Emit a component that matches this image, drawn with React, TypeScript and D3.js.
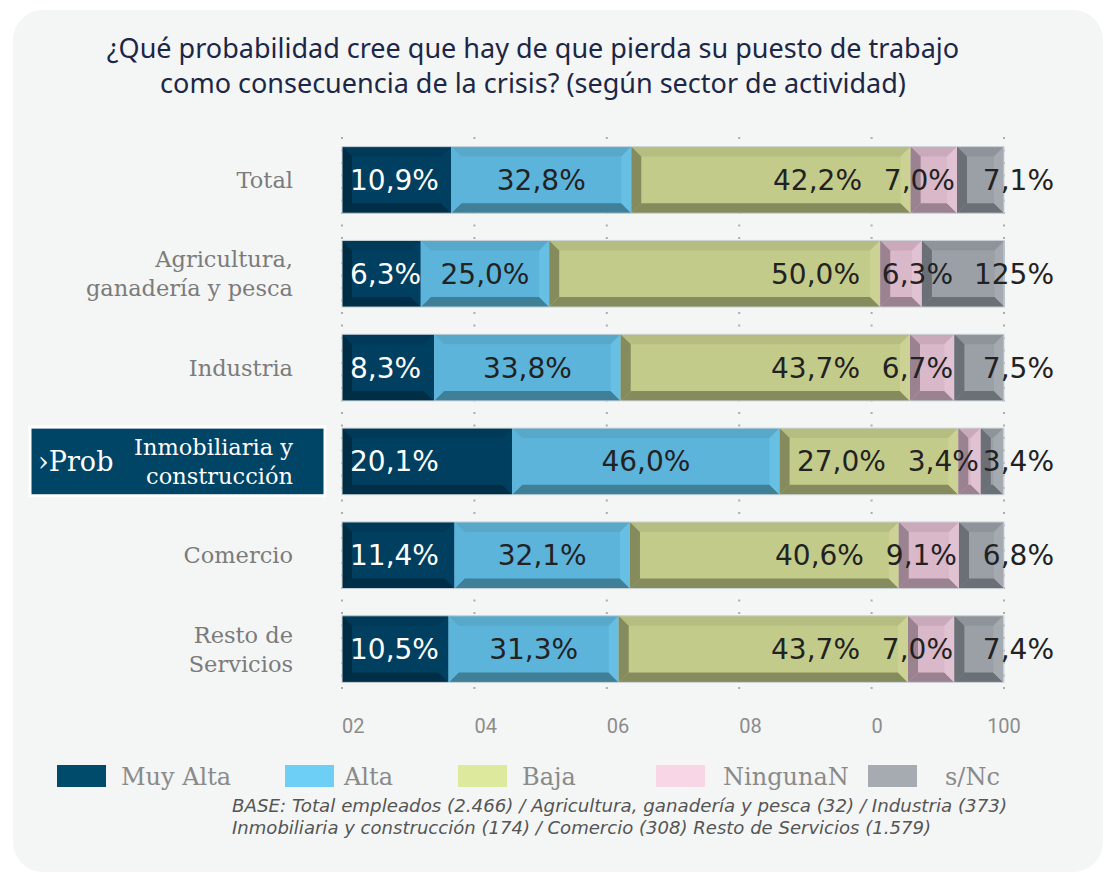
import React from 'react';
import * as d3 from 'd3';

const categoryLines = [
  ['Total'],
  ['Agricultura,', 'ganadería y pesca'],
  ['Industria'],
  ['Inmobiliaria y', 'construcción'],
  ['Comercio'],
  ['Resto de', 'Servicios'],
];
const categories = categoryLines.map((l) => l.join(' '));
const highlighted = 3;

const muyAlta = [10.9, 6.3, 8.3, 20.1, 11.4, 10.5];
const alta = [32.8, 25.0, 33.8, 46.0, 32.1, 31.3];
const baja = [42.2, 50.0, 43.7, 27.0, 40.6, 43.7];
const ninguna = [7.0, 6.3, 6.7, 3.4, 9.1, 7.0];
const sNc = [7.1, 12.5, 7.5, 3.4, 6.8, 7.4];

const keys = ['muyAlta', 'alta', 'baja', 'ninguna', 'sNc'];
const legendNames = ['Muy Alta', 'Alta', 'Baja', 'NingunaN', 's/Nc'];
const tickValues = [0, 20, 40, 60, 80, 100];
const tickLabels = ['02', '04', '06', '08', '0', '100'];
// label exactly as printed in the source
const labelOverrides = { '1-sNc': '125%' };

// the source widens the "Muy Alta" segment by a fixed amount (eats into "Alta")
const MUY_ALTA_SHIFT = 5.6;

const title = [
  '¿Qué probabilidad cree que hay de que pierda su puesto de trabajo',
  'como consecuencia de la crisis? (según sector de actividad)',
];
const baseNote = [
  'BASE: Total empleados (2.466) / Agricultura, ganadería y pesca (32) / Industria (373)',
  'Inmobiliaria y construcción (174) / Comercio (308) Resto de Servicios (1.579)',
];

const legendColors = {
  muyAlta: '#004a6b',
  alta: '#6dcff6',
  baja: '#dde99d',
  ninguna: '#f8d6e6',
  sNc: '#a6abb1',
};

const bevelColors = {
  muyAlta: { face: '#003f5f', top: '#003a58', bottom: '#002e47', left: '#002c44', right: '#003f5f' },
  alta: { face: '#5db4da', top: '#58a8ca', bottom: '#3f7f97', left: '#5db4da', right: '#68bfe4' },
  baja: { face: '#c3cb8a', top: '#b6bd80', bottom: '#858b5d', left: '#858b5d', right: '#cbd294' },
  ninguna: { face: '#d8b8c9', top: '#caa9ba', bottom: '#9a8290', left: '#9a8290', right: '#e0c2d2' },
  sNc: { face: '#9aa0a6', top: '#8e9499', bottom: '#6b7076', left: '#6b7076', right: '#a4aab0' },
};

const rows = categories.map((c, i) => ({
  category: c,
  muyAlta: muyAlta[i],
  alta: alta[i],
  baja: baja[i],
  ninguna: ninguna[i],
  sNc: sNc[i],
}));

const fmt = (v) => d3.format('.1f')(v).replace('.', ',') + '%';

const catFont = "'DejaVu Serif', serif";
const numFont = "'DejaVu Sans', sans-serif";

const Bevel = ({ x0, x1, y0, y1, c }) => {
  const b = Math.min(10, (x1 - x0) / 2);
  const p = (pts) => pts.map((q) => q.join(',')).join(' ');
  return (
    <g>
      <rect x={x0} y={y0} width={x1 - x0} height={y1 - y0} fill={c.face} />
      <polygon points={p([[x0, y0], [x1, y0], [x1 - b, y0 + b], [x0 + b, y0 + b]])} fill={c.top} />
      <polygon points={p([[x0, y1], [x1, y1], [x1 - b, y1 - b], [x0 + b, y1 - b]])} fill={c.bottom} />
      <polygon points={p([[x0, y0], [x0 + b, y0 + b], [x0 + b, y1 - b], [x0, y1]])} fill={c.left} />
      <polygon points={p([[x1, y0], [x1 - b, y0 + b], [x1 - b, y1 - b], [x1, y1]])} fill={c.right} />
    </g>
  );
};

export default function App() {
  const width = 1109;
  const height = 873;

  const x = d3.scaleLinear().domain([0, 100]).range([342, 1004]);
  const y = d3
    .scaleBand()
    .domain(categories)
    .range([133, 696])
    .paddingInner(0.29)
    .paddingOuter(0.145);

  const layers = d3.stack().keys(keys)(rows);

  const segBounds = (key, d) => {
    let [a, b] = d;
    if (key === 'muyAlta') b += MUY_ALTA_SHIFT;
    if (key === 'alta') a += MUY_ALTA_SHIFT;
    return [x(a), x(b)];
  };

  return (
    <div>
      <style>{`body{margin:0}`}</style>
      <svg width={width} height={height} style={{ display: 'block', background: '#fff' }}>
        <rect x={13} y={10} width={1090} height={862} rx={30} fill="#f4f5f5" />

        <g fill="#1c2747" fontFamily="'Noto Sans', sans-serif" fontSize={27} textAnchor="middle">
          {title.map((t, i) => (
            <text key={i} x={533} y={58 + i * 35}>
              {t}
            </text>
          ))}
        </g>

        {/* dotted grid */}
        <g stroke="#a9aeb1" strokeWidth={2} strokeDasharray="2 10.5">
          {tickValues.map((t) => (
            <line key={t} x1={x(t)} x2={x(t)} y1={137} y2={697} />
          ))}
        </g>

        {/* highlighted category */}
        <rect
          x={30}
          y={y(categories[highlighted]) - 1}
          width={295}
          height={y.bandwidth() + 2}
          fill="#004466"
          stroke="#fff"
          strokeWidth={3}
        />
        <text
          x={38}
          y={y(categories[highlighted]) + y.bandwidth() / 2 + 10}
          fill="#fff"
          fontFamily={catFont}
          fontSize={27}
        >
          ›Prob
        </text>

        {/* category labels */}
        <g fontFamily={catFont} fontSize={22.5} textAnchor="end">
          {categoryLines.map((lines, i) => {
            const cy = y(categories[i]) + y.bandwidth() / 2;
            const lh = 29;
            const start = cy - ((lines.length - 1) * lh) / 2 + 8;
            return (
              <text key={i} fill={i === highlighted ? '#fff' : '#7b7b7b'}>
                {lines.map((l, j) => (
                  <tspan key={j} x={293} y={start + j * lh}>
                    {l}
                  </tspan>
                ))}
              </text>
            );
          })}
        </g>

        {/* bars */}
        {layers.map((layer) => (
          <g key={layer.key}>
            {layer.map((d, i) => {
              const [x0, x1] = segBounds(layer.key, d);
              const y0 = y(categories[i]);
              return (
                <Bevel
                  key={i}
                  x0={x0}
                  x1={x1}
                  y0={y0}
                  y1={y0 + y.bandwidth()}
                  c={bevelColors[layer.key]}
                />
              );
            })}
          </g>
        ))}
        <g fill="none" stroke="#cdd5d9" strokeWidth={1}>
          {categories.map((c) => (
            <rect key={c} x={x(0)} y={y(c)} width={x(100) - x(0)} height={y.bandwidth()} />
          ))}
        </g>

        {/* value labels */}
        <g fontFamily={numFont} fontSize={28}>
          {rows.map((r, i) => {
            const cy = y(r.category) + y.bandwidth() / 2 + 10;
            const altaSeg = segBounds('alta', layers[1][i]);
            const ninEnd = Math.max(x(layers[3][i][1]), x(92.6)) - 2;
            const lab = (k) => labelOverrides[`${i}-${k}`] || fmt(r[k]);
            return (
              <g key={i}>
                <text x={x(0) + 8} y={cy} fill="#fff">
                  {lab('muyAlta')}
                </text>
                <text x={(altaSeg[0] + altaSeg[1]) / 2} y={cy} fill="#222" textAnchor="middle">
                  {lab('alta')}
                </text>
                <text x={ninEnd - 93} y={cy} fill="#222" textAnchor="end">
                  {lab('baja')}
                </text>
                <text x={ninEnd} y={cy} fill="#222" textAnchor="end">
                  {lab('ninguna')}
                </text>
                <text x={x(100) + 50} y={cy} fill="#222" textAnchor="end">
                  {lab('sNc')}
                </text>
              </g>
            );
          })}
        </g>

        {/* axis labels */}
        <g fontFamily="'Roboto', sans-serif" fontSize={20} fill="#8c8c8c">
          {tickValues.map((t, i) => (
            <text
              key={t}
              x={x(t)}
              y={733}
              textAnchor={i === tickValues.length - 1 ? 'middle' : 'start'}
            >
              {tickLabels[i]}
            </text>
          ))}
        </g>

        {/* legend */}
        <g fontFamily={catFont} fontSize={24} fill="#8a8a8a">
          {keys.map((k, i) => {
            const boxX = [57, 285, 458, 656, 868][i];
            const textX = [121, 344, 522, 723, 945][i];
            return (
              <g key={k}>
                <rect x={boxX} y={765} width={49} height={22} fill={legendColors[k]} />
                <text x={textX} y={785}>
                  {legendNames[i]}
                </text>
              </g>
            );
          })}
        </g>

        <g fontFamily="'DejaVu Sans', sans-serif" fontStyle="italic" fontSize={17} fill="#555">
          {baseNote.map((t, i) => (
            <text
              key={i}
              x={232}
              y={812 + i * 22}
              textLength={i === 0 ? 775 : 699}
              lengthAdjust="spacingAndGlyphs"
            >
              {t}
            </text>
          ))}
        </g>
      </svg>
    </div>
  );
}
